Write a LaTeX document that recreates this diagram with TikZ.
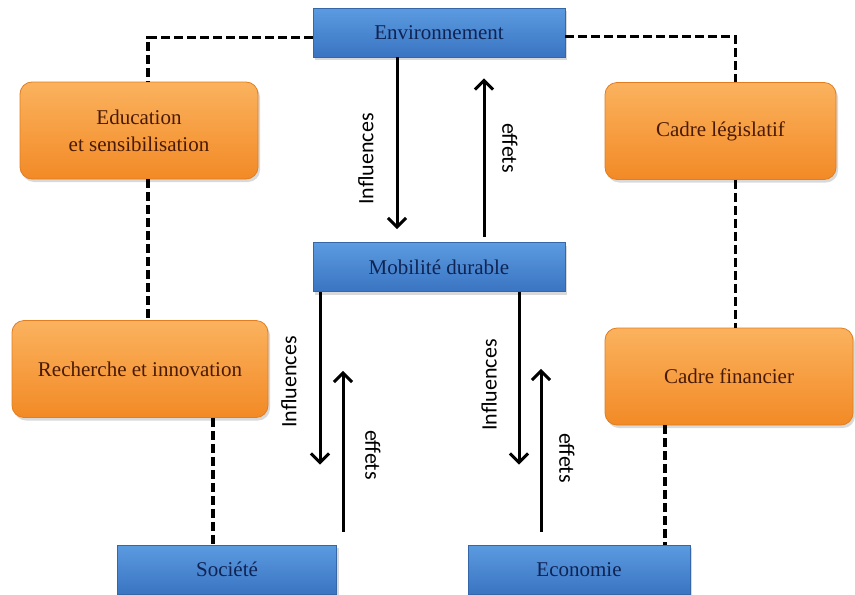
\documentclass[tikz,border=0pt]{standalone}
\usepackage{fontspec}
\setmainfont{Liberation Serif}
\newfontfamily\labelfont{Carlito}
\usetikzlibrary{arrows.meta,shadows}

\definecolor{bluetop}{HTML}{5B9BE0}
\definecolor{bluebot}{HTML}{3A74C2}
\definecolor{blueedge}{HTML}{3566A8}
\definecolor{navytext}{HTML}{0F2454}
\definecolor{orangetop}{HTML}{FBB25E}
\definecolor{orangebot}{HTML}{F28A26}
\definecolor{orangeedge}{HTML}{E07E20}
\definecolor{browntext}{HTML}{4A1A04}

\begin{document}
\begin{tikzpicture}[x=0.5pt, y=-0.5pt,
    bluebox/.style={draw=blueedge, line width=0.4pt, top color=bluetop, bottom color=bluebot,
        text=navytext, minimum height=24.5pt, font=\fontsize{10.5}{13.5}\selectfont,
        drop shadow={opacity=0.3, shadow xshift=1pt, shadow yshift=-1.5pt}},
    orangebox/.style={draw=orangeedge, line width=0.4pt, rounded corners=6pt, top color=orangetop,
        bottom color=orangebot, text=browntext, align=center, font=\fontsize{10.5}{13.5}\selectfont,
        drop shadow={opacity=0.3, shadow xshift=1pt, shadow yshift=-1.5pt}},
    link/.style={line width=1.8pt, dash pattern=on 4.5pt off 2pt},
    flow/.style={line width=1.5pt, -{Straight Barb[length=4.5pt,width=9pt]}},
    lbl/.style={font=\labelfont\fontsize{11}{13}\selectfont}]

    \useasboundingbox (0,0) rectangle (855,594);

    % Blue boxes
    \foreach \name/\x/\y/\w/\txt in {env/439/32.5/126pt/Environnement, mob/439/267/126pt/Mobilité durable,
                                     soc/227/569.5/109.5pt/Société, eco/579/569.5/111pt/Economie}
      \node[bluebox, minimum width=\w] (\name) at (\x,\y) {\txt};

    % Orange boxes
    \foreach \name/\x/\y/\w/\txt in {edu/139/130.5/119pt/{Education\\et sensibilisation},
                                     rech/140/369/128pt/Recherche et innovation,
                                     leg/720.5/131/115.5pt/Cadre législatif,
                                     fin/729/376.5/124pt/Cadre financier}
      \node[orangebox, minimum width=\w, minimum height=48.5pt] (\name) at (\x,\y) {\txt};

    % Dashed links
    \draw[link] ([yshift=-2.5pt]env.west) -| ([xshift=4.5pt]edu.north);
    \draw[link] ([xshift=4.5pt]edu.south) -- ([xshift=4.5pt]edu.south |- rech.north);
    \draw[link] ([xshift=-7pt]soc.north |- rech.south) -- ([xshift=-7pt]soc.north);
    \draw[link] ([yshift=-2pt]env.east) -| ([xshift=7.5pt]leg.north);
    \draw[link] ([xshift=7.5pt]leg.south) -- ([xshift=7.5pt]leg.south |- fin.north);
    \draw[link] ([xshift=-32pt]fin.south) -- ([xshift=-32pt]fin.south |- eco.north);

    % Influences / effets
    \draw[flow, shorten >=6.5pt] ([xshift=-21pt]env.south) -- ([xshift=-21pt]env.south |- mob.north);
    \draw[flow, shorten <=2.5pt, shorten >=10.5pt] ([xshift=22.5pt]mob.north) -- ([xshift=22.5pt]mob.north |- env.south);
    \draw[flow, shorten >=40pt] ([xshift=46.5pt]soc.north |- mob.south) -- ([xshift=46.5pt]soc.north);
    \draw[flow, shorten <=6.5pt, shorten >=39.5pt] ([xshift=58pt]soc.north) -- ([xshift=58pt]soc.north |- mob.south);
    \draw[flow, shorten >=40pt] ([xshift=-30pt]eco.north |- mob.south) -- ([xshift=-30pt]eco.north);
    \draw[flow, shorten <=6.5pt, shorten >=38.5pt] ([xshift=-19pt]eco.north) -- ([xshift=-19pt]eco.north |- mob.south);

    % Arrow labels
    \foreach \name/\x/\y/\r/\txt in {infenv/366/159/90/Influences, effenv/510/148/-90/effets,
                                     infsoc/289/382/90/Influences, effsoc/373/455/-90/effets,
                                     infeco/489/385/90/Influences, effeco/567/458/-90/effets}
      \node[lbl, rotate=\r] (\name) at (\x,\y) {\txt};
\end{tikzpicture}
\end{document}
